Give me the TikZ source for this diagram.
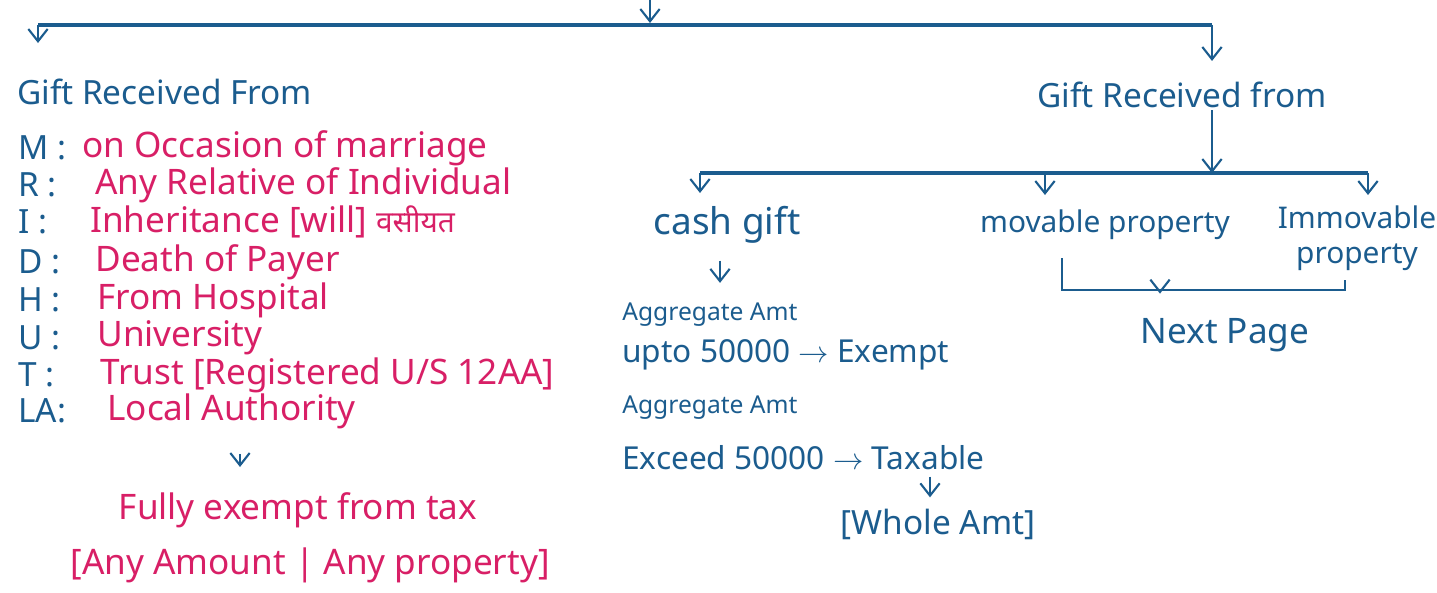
\documentclass[tikz,border=0pt]{standalone}
\usepackage{fontspec}
\setmainfont{Noto Sans}
\newfontfamily\hindifont[Script=Devanagari]{Noto Sans}
\usetikzlibrary{positioning, arrows.meta}
\definecolor{inkblue}{HTML}{1B5C8E}
\definecolor{inkpink}{HTML}{D81F66}

\begin{document}
\begin{tikzpicture}[
    x=0.02cm, y=-0.02cm,
    bus/.style={
        draw=inkblue, line width=2pt
    },
    link/.style={
        draw=inkblue, line width=1.4pt
    },
    arr/.style={
        -{Straight Barb[length=7pt, width=11pt]}, line width=1.2pt, color=inkblue
    },
    head/.style={
        font=\fontsize{19}{22}\selectfont, text=inkblue, inner sep=1pt
    },
    key/.style={
        font=\fontsize{19}{22}\selectfont, text=inkblue, anchor=west, inner sep=0pt
    },
    note/.style={
        font=\fontsize{20}{23}\selectfont, text=inkpink, anchor=west, inner sep=0pt
    },
    calc/.style={
        font=\fontsize{18}{21}\selectfont, text=inkblue, anchor=west, inner sep=0pt
    }
]
\useasboundingbox (0,0) rectangle (1437,592);

% Top bus
\coordinate (inTop) at (650,0);
\coordinate (busTop) at (650,23);
\coordinate (busL) at (38,25);
\coordinate (busR) at (1212,25);
\draw[bus] (busL) -- (busR);
\draw[arr] (inTop) -- (busTop);
\draw[arr] (busL) -- ++(0,18);

% Left branch: exempt list
\node[head, anchor=west] (giftL) at (15,92) {Gift Received From};

\node[key] (kM) at (18,148) {M :};
\node[note] (tM) at (82,148) {on Occasion of marriage};
\node[key] (kR) at (18,185) {R :};
\node[note] (tR) at (95,185) {Any Relative of Individual};
\node[key] (kI) at (18,222) {I :};
\node[note] (tI) at (90,222) {Inheritance [will] {\hindifont\fontsize{17}{20}\selectfont वसीयत}};
\node[key] (kD) at (18,262) {D :};
\node[note] (tD) at (95,262) {Death of Payer};
\node[key] (kH) at (18,300) {H :};
\node[note] (tH) at (97,300) {From Hospital};
\node[key] (kU) at (18,338) {U :};
\node[note] (tU) at (97,338) {University};
\node[key] (kT) at (18,375) {T :};
\node[note] (tT) at (100,375) {Trust [Registered U/S 12AA]};
\node[key] (kLA) at (18,411) {LA:};
\node[note] (tLA) at (107,411) {Local Authority};

\node[note, anchor=center] (fullEx) at (298,510) {Fully exempt from tax};
\node[note, anchor=center] (anyAmt) at (310,565) {[Any Amount | Any property]};
\draw[arr, shorten <=0.5cm, shorten >=0.5cm] (tLA.south -| 240,0) -- (fullEx.north -| 240,0);

% Right branch: gift types
\node[head] (giftR) at (1182,95) {Gift Received from};
\draw[arr, shorten >=0.38cm] (busR) -- (giftR.north -| busR);

\coordinate (b2L) at (700,173);
\coordinate (b2M) at (1045,173);
\coordinate (b2R) at (1368,173);
\draw[bus] (b2L) -- (b2R);
\draw[arr] (giftR.south -| busR) -- (busR |- b2L);
\draw[arr] (b2L) -- ++(0,20);
\draw[arr] (b2M) -- ++(0,22);
\draw[arr] (b2R) -- ++(0,22);

\node[head, font=\fontsize{21}{24}\selectfont] (cash) at (727,225) {cash gift};
\node[head, font=\fontsize{17}{20}\selectfont] (movable) at (1105,225) {movable property};
\node[head, font=\fontsize{17}{20}\selectfont, align=center] (immov) at (1357,238) {Immovable\\property};

% Cash gift limits
\node[calc, font=\fontsize{14}{17}\selectfont] (agg1) at (622,315) {Aggregate Amt};
\node[calc] (upto) at (622,355) {upto 50000 $\rightarrow$ Exempt};
\node[calc, font=\fontsize{14}{17}\selectfont] (agg2) at (622,408) {Aggregate Amt};
\node[calc] (exceed) at (622,458) {Exceed 50000 $\rightarrow$ Taxable};
\node[calc, anchor=center, font=\fontsize{19}{22}\selectfont] (whole) at (938,524) {[Whole Amt]};
\draw[arr, shorten <=0.3cm, shorten >=0.4cm] (cash.south -| 720,0) -- (agg1.north -| 720,0);
\draw[arr, shorten <=0.12cm, shorten >=0.22cm] (exceed.south -| 930,0) -- (whole.north -| 930,0);

% Property bracket
\coordinate (brL) at (1062,258);
\coordinate (brR) at (1345,280);
\coordinate (brMid) at (1160,290);
\node[head, font=\fontsize{20}{23}\selectfont] (nextPg) at (1225,335) {Next Page};
\draw[link] (brL) |- (brMid) -| (brR);
\draw[arr, shorten >=0.45cm] (brMid) -- (nextPg.north -| brMid);

\end{tikzpicture}
\end{document}
